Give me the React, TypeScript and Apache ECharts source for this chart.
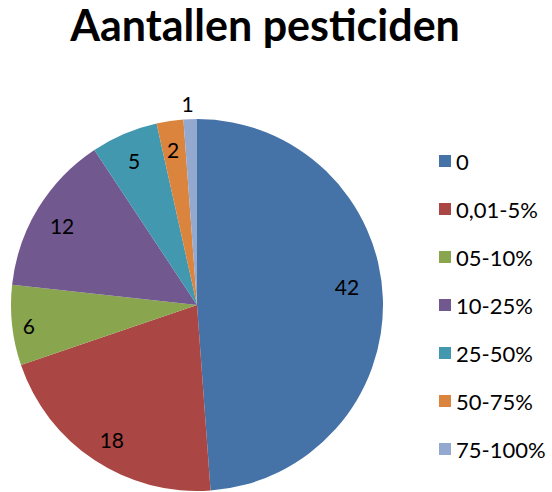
import React, { useEffect, useRef } from "react";
import * as echarts from "echarts";

const categories = ["0", "0,01-5%", "05-10%", "10-25%", "25-50%", "50-75%", "75-100%"];
const values = [42, 18, 6, 12, 5, 2, 1];
const colors = ["#4572A7", "#AA4643", "#89A54E", "#71588F", "#4198AF", "#DB843D", "#93A9CF"];
const titleText = "Aantallen pesticiden";

// label nudges (styling only) to mimic best-fit placement
const labelNudges: [number, number][] = [[-8, -13], [2, 3], [-11, 3], [0, 3], [-1, 1], [-1, 1], [9, -4]];

export default function App() {
  const ref = useRef<HTMLDivElement>(null);
  useEffect(() => {
    document.body.style.margin = "0";
    const chart = echarts.init(ref.current!, null, { renderer: "svg" });
    const font = "Lato";
    const data = categories.map((c, i) => ({ name: c, value: values[i], itemStyle: { color: colors[i] } }));
    const labelData = categories.map((c, i) => ({
      name: c,
      value: values[i],
      label: {
        show: true,
        position: i === 6 ? "outside" : "inside",
        offset: labelNudges[i],
      },
      labelLine: { show: false, length: 12, length2: 0 },
    }));
    chart.setOption({
      animation: false,
      backgroundColor: "#ffffff",
      textStyle: { fontFamily: font },
      title: {
        text: titleText,
        left: 260,
        textAlign: "center",
        top: -2,
        textStyle: { fontFamily: font, fontWeight: "bold", fontSize: 43, color: "#000" },
      },
      legend: {
        orient: "vertical",
        left: 434,
        top: 145,
        height: 345,
        itemWidth: 12,
        itemHeight: 12,
        itemGap: 26,
        icon: "rect",
        data: categories,
        textStyle: { fontFamily: font, fontSize: 22, color: "#000", padding: [0, 0, 0, 0] },
      },
      series: [
        {
          type: "pie",
          center: [197, 305],
          radius: [0, 186],
          startAngle: 90,
          clockwise: true,
          label: { show: false },
          labelLine: { show: false },
          emphasis: { disabled: true },
          data,
          itemStyle: { borderWidth: 0 },
        },
        {
          type: "pie",
          center: [197, 305],
          radius: [124, 186],
          startAngle: 90,
          clockwise: true,
          silent: true,
          itemStyle: { color: "rgba(0,0,0,0)", borderWidth: 0 },
          label: { show: true, formatter: "{c}", fontFamily: font, fontSize: 21, color: "#000" },
          emphasis: { disabled: true },
          data: labelData,
        },
      ],
    });
    return () => chart.dispose();
  }, []);
  return <div ref={ref} style={{ width: 552, height: 492 }} />;
}
